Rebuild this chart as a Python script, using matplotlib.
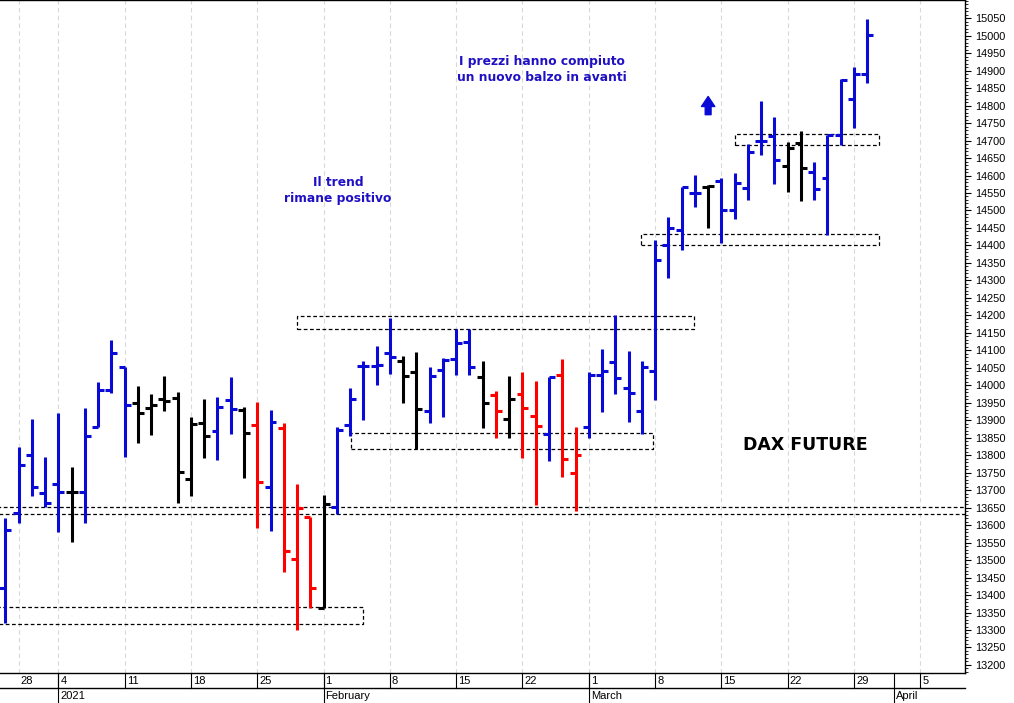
import numpy as np
import matplotlib
matplotlib.use('Agg')
import matplotlib.pyplot as plt
from matplotlib.ticker import MultipleLocator, FixedLocator
from matplotlib.transforms import blended_transform_factory

# DAX future, daily OHLC (trading-day index 0 = 23 Dec 2020)
opens = [13420, 13634, 13801, 13691, 13718, 13696, 13694, 13882, 13987, 14053,
         13950, 13934, 13961, 13963, 13732, 13893, 13870, 13958, 13929, 13887,
         13708, 13877, 13502, 13622, 13362, 13651, 13887, 14055, 14056, 14092,
         14070, 14039, 13925, 14044, 14075, 14125, 14023, 13972, 13904, 13974,
         13913, 13861, 14030, 13748, 13880, 14030, 14066, 13992, 13927, 14042,
         14401, 14444, 14549, 14566, 14583, 14502, 14564, 14700, 14713, 14628,
         14692, 14610, 14592, 14716, 14818, 14891]
highs = [13620, 13823, 13903, 13794, 13920, 13767, 13936, 14010, 14130, 14053,
         13999, 13974, 14027, 13982, 13909, 13960, 13966, 14023, 13939, 13951,
         13929, 13891, 13717, 13622, 13686, 13882, 13992, 14068, 14112, 14192,
         14084, 14096, 14053, 14077, 14160, 14160, 14070, 13984, 14026, 14037,
         14013, 14025, 14075, 13882, 14039, 14103, 14201, 14098, 14070, 14416,
         14482, 14568, 14602, 14573, 14592, 14608, 14690, 14813, 14767, 14695,
         14726, 14638, 14716, 14875, 14910, 15047]
lows = [13320, 13605, 13683, 13653, 13581, 13553, 13605, 13882, 13977, 13794,
        13834, 13858, 13927, 13663, 13684, 13791, 13786, 13861, 13736, 13593,
        13583, 13465, 13300, 13362, 13362, 13631, 13855, 13901, 14001, 14032,
        13949, 13817, 13893, 13909, 14030, 14030, 13877, 13848, 13848, 13791,
        13658, 13782, 13739, 13639, 13848, 13923, 13975, 13894, 13861, 13958,
        14306, 14387, 14511, 14449, 14406, 14475, 14530, 14659, 14576, 14554,
        14527, 14530, 14430, 14688, 14735, 14866]
closes = [13586, 13772, 13710, 13663, 13696, 13696, 13855, 13987, 14092, 13944,
          13920, 13944, 13956, 13753, 13889, 13855, 13939, 13933, 13863, 13724,
          13894, 13527, 13648, 13419, 13660, 13872, 13960, 14055, 14058, 14080,
          14026, 13931, 14026, 14072, 14122, 14052, 13949, 13927, 13960, 13934,
          13884, 14023, 13789, 13801, 14030, 14042, 14020, 13977, 14053, 14359,
          14449, 14568, 14549, 14570, 14502, 14578, 14668, 14700, 14645, 14678,
          14621, 14562, 14716, 14873, 14891, 15002]
bar_colors = list('bbbbbkbbbbkkkkkkbbkrbrrrkbbbbbkkbbbbkrkrrbrrbbbbbbbbbkbbbbbkkbbbb')

# bottom date axis (Mondays and month starts, as trading-day index)
monday_idx = [1, 4, 9, 14, 19, 24, 29, 34, 39, 44, 49, 54, 59, 64, 69]
monday_lbl = ['28', '4', '11', '18', '25', '1', '8', '15', '22', '1', '8', '15', '22', '29', '5']
month_idx = [4, 24, 44, 67]
month_lbl = ['2021', 'February', 'March', 'April']

# price scale labels
price_ticks = list(range(13200, 15051, 50))

# support / resistance zones: (x from, x to, price low, price high)
zones = [(-1, 27.0, 13317, 13366),
         (-1, 74, 13632, 13652),
         (26.1, 48.85, 13818, 13863),
         (22.0, 51.9, 14161, 14198),
         (47.9, 65.9, 14402, 14433),
         (55.0, 65.9, 14687, 14719)]

cmap = {'b': '#0a0ad6', 'r': '#ff0000', 'k': '#000000'}
txt_blue = '#2010c4'

fig = plt.figure(figsize=(10.14, 7.03), dpi=100)
ax = fig.add_axes([0, 30 / 703, 965 / 1014, 673 / 703])

x = np.arange(len(closes))
cols = [cmap[c] for c in bar_colors]
ax.vlines(x, lows, highs, colors=cols, lw=2.2, zorder=3)
ax.hlines(opens, x - 0.45, x, colors=cols, lw=2.2, zorder=3)
ax.hlines(closes, x, x + 0.45, colors=cols, lw=2.2, zorder=3)

for x0, x1, y0, y1 in zones:
    ax.plot([x0, x1, x1, x0, x0], [y0, y0, y1, y1, y0], color='black',
            lw=0.9, ls=(0, (3, 2)), zorder=2)

ax.set_xlim(-0.40, 72.37)
ax.set_ylim(13177, 15102)

# axes styling
ax.spines['left'].set_visible(False)
for s in ['right', 'top', 'bottom']:
    ax.spines[s].set_linewidth(1.0)
ax.set_xticks(monday_idx)
ax.grid(axis='x', color='#d9d9d9', ls=(0, (4, 3)), lw=0.8, zorder=0)
ax.tick_params(axis='x', length=0, labelbottom=False)
ax.yaxis.tick_right()
ax.yaxis.set_major_locator(FixedLocator(price_ticks))
ax.yaxis.set_minor_locator(MultipleLocator(10))
ax.tick_params(axis='y', which='major', length=4.3, width=0.8, pad=3,
               labelsize=7.8, labelfontfamily='Liberation Sans')
ax.tick_params(axis='y', which='minor', length=2.2, width=0.6)

# two-row date axis
trans = blended_transform_factory(ax.transData, ax.transAxes)
r1 = -15 / 673
r2 = -30 / 673
ax.plot([-0.4, 72.37], [r1, r1], transform=trans, color='black', lw=1.0, clip_on=False)
for m, lbl in zip(monday_idx, monday_lbl):
    if m > 1:
        ax.plot([m, m], [0, r1], transform=trans, color='black', lw=0.8, clip_on=False)
    ax.text(m + 0.15, -7.5 / 673, lbl, transform=trans, ha='left', va='center',
            fontsize=8, family='Liberation Sans')
for m, lbl in zip(month_idx, month_lbl):
    ax.plot([m, m], [0, r2], transform=trans, color='black', lw=0.8, clip_on=False)
    ax.text(m + 0.15, -23 / 673, lbl, transform=trans, ha='left', va='center',
            fontsize=8, family='Liberation Sans')

# comments on the chart
ax.text(40.5, 14903, 'I prezzi hanno compiuto\nun nuovo balzo in avanti', ha='center',
        va='center', color=txt_blue, fontsize=8.8, fontweight='bold', linespacing=1.25)
ax.text(25.1, 14557, 'Il trend\nrimane positivo', ha='center', va='center',
        color=txt_blue, fontsize=8.8, fontweight='bold', linespacing=1.25)
ax.text(60.3, 13829, 'DAX FUTURE', ha='center', va='center', color='black',
        fontsize=12.5, fontweight='bold')
ax.annotate('', xy=(53.0, 14826), xytext=(53.0, 14774),
            arrowprops=dict(arrowstyle='simple,head_length=0.6,head_width=0.8,tail_width=0.35',
                            color=cmap['b'], shrinkA=0, shrinkB=0, mutation_scale=12))

fig.savefig('out.png', dpi=100)
